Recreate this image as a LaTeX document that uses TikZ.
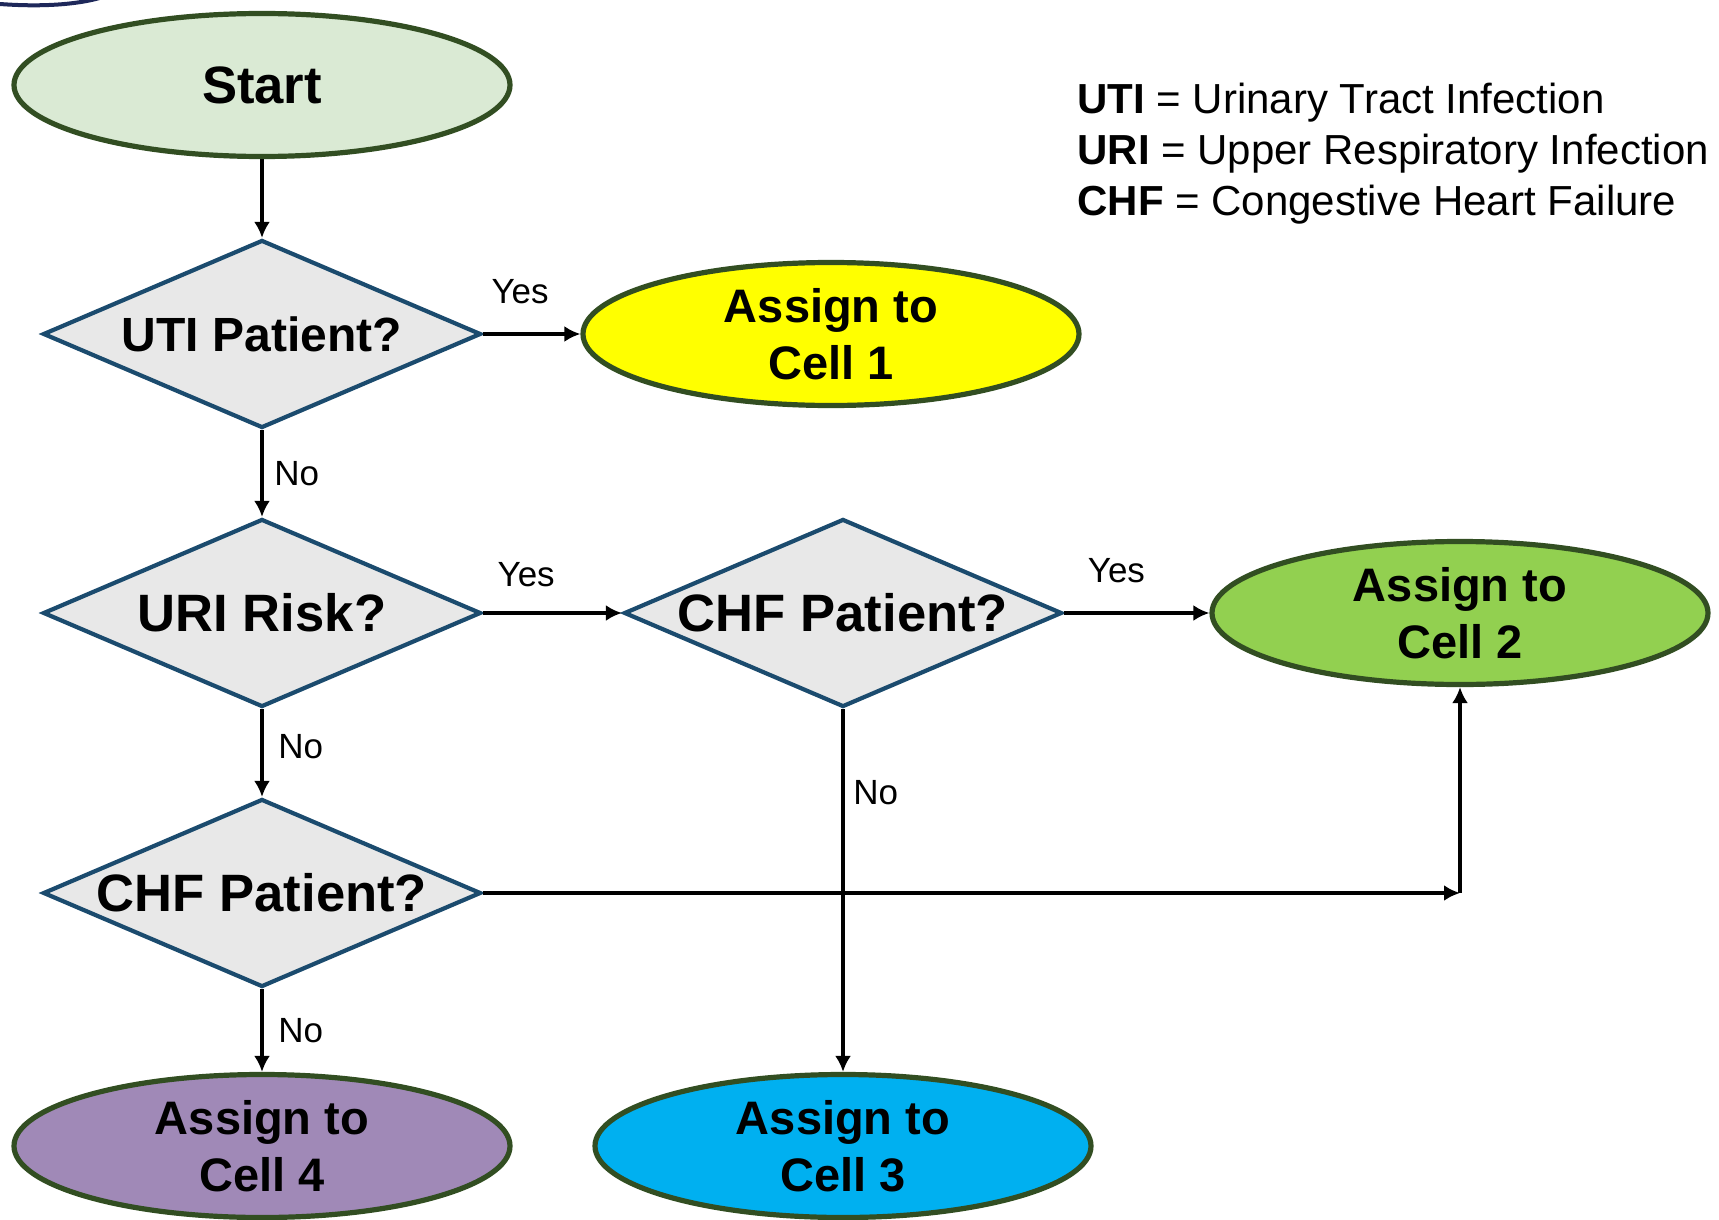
\documentclass[tikz,border=0pt]{standalone}
\usepackage{fontspec}
\setmainfont{Liberation Sans}
\usetikzlibrary{shapes.geometric,arrows.meta}
\definecolor{termline}{RGB}{50,78,34}
\definecolor{testline}{RGB}{27,75,110}
\definecolor{testfill}{RGB}{232,232,232}
\definecolor{startfill}{RGB}{218,234,212}
\definecolor{cellone}{RGB}{255,255,0}
\definecolor{celltwo}{RGB}{146,208,80}
\definecolor{cellthree}{RGB}{0,176,240}
\definecolor{cellfour}{RGB}{160,137,183}
\definecolor{logoblue}{RGB}{30,40,90}

\begin{document}
\begin{tikzpicture}[x=0.5pt, y=-0.5pt, >={Latex[length=8pt,width=8pt]},
    term/.style={ellipse, draw=termline, line width=2.6pt, minimum width=248pt,
      minimum height=71.5pt, inner sep=0pt, align=center,
      font=\fontsize{23.5}{28.5}\selectfont\bfseries},
    test/.style={diamond, aspect=2.3, draw=testline, fill=testfill, line width=2.1pt,
      minimum width=219pt, minimum height=94pt, inner sep=0pt,
      font=\fontsize{26.3}{30}\selectfont\bfseries},
    lbl/.style={font=\fontsize{17.5}{20}\selectfont, inner sep=0pt},
    flow/.style={->, line width=2.4pt}]
         \useasboundingbox (0, 0) rectangle (1719, 1220);
         \draw [line width=2pt, draw=logoblue] (0, 4) .. controls (40, 7) and (80, 5) .. (106, -4);
         \node (S) [term, fill=startfill, font=\fontsize{26.3}{30}\selectfont\bfseries] at (262, 85) {Start};
         \node (Q1) [test, font=\fontsize{24}{28}\selectfont\bfseries] at (262, 334) {UTI Patient?};
         \node (C1) [term, fill=cellone] at (831, 334) {Assign to\\Cell 1};
         \node (Q2) [test] at (262, 613) {URI Risk?};
         \node (Q3) [test] at (843, 613) {CHF Patient?};
         \node (C2) [term, fill=celltwo] at (1460, 613) {Assign to\\Cell 2};
         \node (Q4) [test] at (262, 893) {CHF Patient?};
         \node (C4) [term, fill=cellfour] at (262, 1146) {Assign to\\Cell 4};
         \node (C3) [term, fill=cellthree] at (843, 1146) {Assign to\\Cell 3};
         \node (key) [anchor=west, align=left, inner sep=0pt, font=\fontsize{21}{25.5}\selectfont] at (1077, 154)
           {\textbf{UTI} = Urinary Tract Infection\\\textbf{URI} = Upper Respiratory Infection\\\textbf{CHF} = Congestive Heart Failure};
         \coordinate (K) at (C2.south |- Q4.east);
         \draw [flow] (S) -- (Q1);
         \draw [flow] (Q1) -- node [lbl, above=14pt, pos=0.38] {Yes} (C1);
         \draw [flow] (Q1) -- node [lbl, right=5pt, midway] {No} (Q2);
         \draw [flow] (Q2) -- node [lbl, above=12pt, pos=0.31] {Yes} (Q3);
         \draw [flow] (Q3) -- node [lbl, above=14pt, pos=0.36] {Yes} (C2);
         \draw [flow] (Q2) -- node [lbl, right=7pt, pos=0.43] {No} (Q4);
         \draw [flow] (Q3) -- node [lbl, right=4pt, pos=0.23] {No} (C3);
         \draw [flow] (Q4) -- node [lbl, right=7pt, midway] {No} (C4);
         \draw [flow] (Q4) -- (K);
         \draw [flow] (K) -- (C2);
\end{tikzpicture}
\end{document}
